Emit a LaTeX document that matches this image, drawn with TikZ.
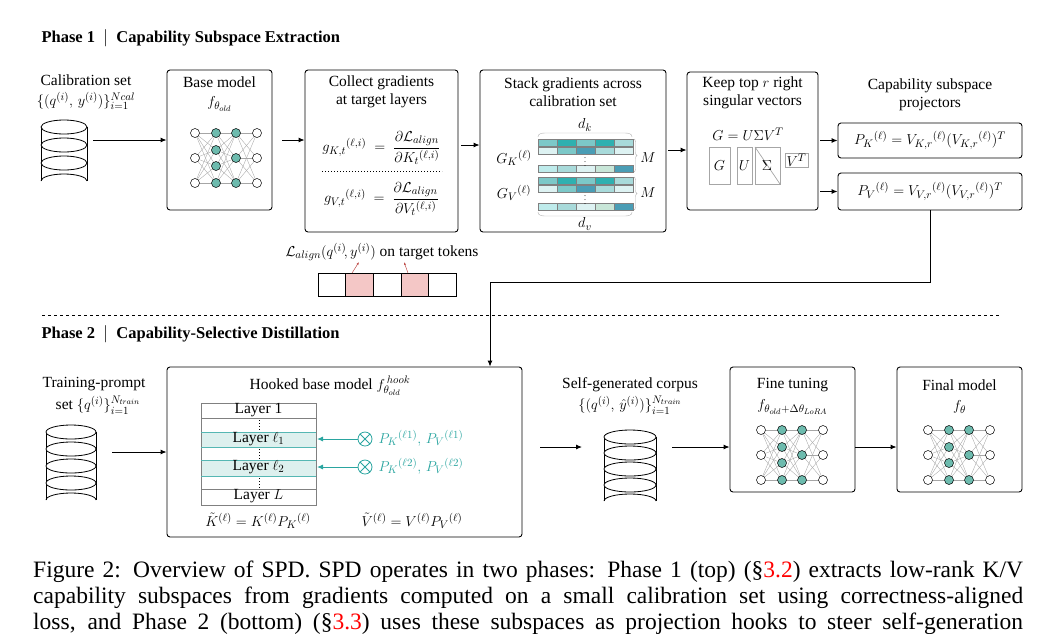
\documentclass[tikz,border=0pt]{standalone}
\usepackage{amsmath}
\usepackage{fontspec}
\setmainfont{Liberation Serif}
\usetikzlibrary{arrows.meta,decorations.pathreplacing}
\definecolor{tealn}{HTML}{6DBBAE}
\definecolor{hookc}{HTML}{2AA5A0}
\definecolor{layfill}{HTML}{DDF0EE}
\definecolor{pinkc}{HTML}{F4C7C6}
\definecolor{redc}{HTML}{C0504D}
\definecolor{cA}{HTML}{7CC8C8}
\definecolor{cB}{HTML}{2FB0B0}
\definecolor{cC}{HTML}{4A9DB5}
\definecolor{cD}{HTML}{A8DADA}
\definecolor{cE}{HTML}{DDF2F2}
\definecolor{cF}{HTML}{C8E6D8}
\definecolor{cG}{HTML}{BEEBEB}
\newcommand{\nnet}[2]{%
 \begin{scope}[shift={(#1,#2)}]
  \foreach \a in {-25,0,25}{\foreach \b in {-25,-8,8,25}{
    \draw[edge] (-31,\a)--(-10,\b);
    \draw[edge] (10,\a)--(-10,\b);}
    \foreach \c in {-25,0,25}{\draw[edge] (10,\a)--(31,\c);}}
  \foreach \a in {-25,0,25}{\node[nw] at (-31,\a){}; \node[nt] at (10,\a){}; \node[nw] at (31,\a){};}
  \foreach \b in {-25,-8,8,25}{\node[nt] at (-10,\b){};}
 \end{scope}}
\newcommand{\cyl}[5]{% cx, ytop, halfwidth, spacing, n
 \begin{scope}[thick]
  \pgfmathsetmacro{\yb}{#2+#4*(#5-1)}
  \draw (#1-#3,#2)--(#1-#3,\yb+#4) (#1+#3,#2)--(#1+#3,\yb+#4);
  \foreach \i in {1,...,#5}{\draw[fill=white] (#1,{#2+#4*(\i-1)}) ellipse[x radius=#3,y radius=7];}
  \draw (#1-#3,\yb+#4) arc[start angle=180,end angle=360,x radius=#3,y radius=7];
 \end{scope}}
\begin{document}
\begin{tikzpicture}[x=1pt,y=-1pt,font=\fontsize{15.5}{18}\selectfont,
 box/.style={draw,rounded corners=3pt,line width=0.9pt},
 arr/.style={-{Latex[length=6pt,width=5pt]},line width=0.9pt},
 edge/.style={gray!70,line width=0.35pt},
 nw/.style={circle,draw,fill=white,inner sep=0,minimum size=9pt,line width=0.5pt},
 nt/.style={circle,draw,fill=tealn,inner sep=0,minimum size=9pt,line width=0.5pt},
 lay/.style={draw=gray,line width=0.6pt},
 hk/.style={-{Latex[length=6pt,width=5pt]},hookc,line width=0.9pt},
 gb/.style={draw=gray!70,line width=0.7pt}]
\useasboundingbox (0,0) rectangle (1051,633);
% Phase 1
\node[anchor=west,font=\fontsize{16.5}{18}\selectfont\bfseries] (p1) at (38,38) {Phase 1\ \ $|$\ \ Capability Subspace Extraction};
\node (cal) at (86,80) {Calibration set};
\node (calf) at (86,101) {$\{(q^{(i)},\,y^{(i)})\}_{i=1}^{Ncal}$};
\cyl{64}{127}{23}{18}{3}
\coordinate (c1) at (93,140);
% base model
\node[box,minimum width=105pt,minimum height=140pt] (bm) at (219.5,140) {};
\node (bmt) at (219.5,82) {Base model};
\node (bmf) at (219.5,104) {$f_{\theta_{old}}$};
\nnet{226}{158}
\draw[arr] (c1)--(bm.west);
% collect
\node[box,minimum width=153pt,minimum height=162pt] (cg) at (381.5,151) {};
\node[align=center] (cgt) at (381.5,92) {Collect gradients\\at target layers};
\node (gk) at (381.5,148) {$g_{K,t}{}^{(\ell,i)}\ =\ \dfrac{\partial\mathcal{L}_{align}}{\partial K_t{}^{(\ell,i)}}$};
\draw[dotted,line width=1pt] (322,171)--(442,171);
\node (gv) at (381.5,199) {$g_{V,t}{}^{(\ell,i)}\ =\ \dfrac{\partial\mathcal{L}_{align}}{\partial V_t{}^{(\ell,i)}}$};
\coordinate (a1) at (282,140);
\draw[arr] (a1) -- (cg.west|-a1);
% stack
\node[box,minimum width=186pt,minimum height=162pt] (sg) at (573,151) {};
\node[align=center] (sgt) at (573,92) {Stack gradients across\\calibration set};
\coordinate (a2) at (461,145);
\draw[arr] (a2)--(sg.west|-a2);
\foreach \y/\cs in {139/{cA,cB,cA,cB,cD},147/{cE,cA,cC,cD,cE},165/{cG,cD,cE,cF,cC},177/{cA,cB,cA,cB,cD},185/{cE,cA,cC,cD,cE},203/{cG,cD,cE,cF,cC}}{
  \foreach \c [count=\k] in \cs {\draw[gray,line width=0.4pt,fill=\c] ({538+19*(\k-1)},\y) rectangle ++(19,7);}}
\node[font=\fontsize{8}{8}\selectfont] at (585,159) {$\vdots$};
\node[font=\fontsize{8}{8}\selectfont] at (585,197) {$\vdots$};
\draw[gray!60] (538,137) to[out=100,in=180] (545,133) -- (625,133) to[out=0,in=80] (632,137);
\draw[gray!60] (538,212) to[out=-100,in=180] (545,216) -- (625,216) to[out=0,in=-80] (632,212);
\draw[gray!60,decorate,decoration={brace,amplitude=3pt}] (634,139)--(634,172);
\draw[gray!60,decorate,decoration={brace,amplitude=3pt}] (634,177)--(634,210);
\node (dk) at (585,125) {$d_k$};
\node (dv) at (585,224) {$d_v$};
\node (mk) at (648,158) {$M$};
\node (mv) at (648,193) {$M$};
\node (gkl) at (514,158) {$G_K{}^{(\ell)}$};
\node (gvl) at (514,193) {$G_V{}^{(\ell)}$};
% keep
\node[box,minimum width=131pt,minimum height=138pt] (kp) at (752.5,141) {};
\node[align=center] (kpt) at (752.5,93) {Keep top $r$ right\\singular vectors};
\coordinate (a3) at (668,150);
\draw[arr] (a3)--(kp.west|-a3);
\node (svd) at (748,134) {$G = U\Sigma V^T$};
\draw[gb] (709,147) rectangle (730,184); \node at (719.5,166) {$G$};
\draw[gb] (737,147) rectangle (752,184); \node at (744.5,166) {$U$};
\draw[gb] (755,147) rectangle (780,184); \draw[gb] (755,147)--(780,184); \node at (767,166) {$\Sigma$};
\draw[gb] (785,153) rectangle (808,167); \node at (796.5,160) {$V^T$};
% projectors
\node[align=center] (cap) at (930,95) {Capability subspace\\projectors};
\node[box,minimum width=184pt,minimum height=35pt] (pk) at (930,140.5) {$P_K{}^{(\ell)} = V_{K,r}{}^{(\ell)}(V_{K,r}{}^{(\ell)})^T$};
\node[box,minimum width=184pt,minimum height=37pt] (pv) at (930,191.5) {$P_V{}^{(\ell)} = V_{V,r}{}^{(\ell)}(V_{V,r}{}^{(\ell)})^T$};
\coordinate (a4) at (820,140.5); \coordinate (a5) at (820,191.5);
\draw[arr] (a4)--(pk.west);
\draw[arr] (a5)--(pv.west);
% tokens
\node (al) at (382,252) {$\mathcal{L}_{align}(q^{(i)}\!,y^{(i)})$ on target tokens};
\foreach \k in {0,...,4}{
  \pgfmathsetmacro{\fc}{ifthenelse(\k==1||\k==3,"pinkc","white")}
  \draw[line width=0.6pt,fill=\fc] ({318+27.6*\k},273) rectangle ++(27.6,23);}
\draw[-{Latex[length=3pt]},redc,line width=0.5pt] (352,273)--(359,262);
\draw[-{Latex[length=3pt]},redc,line width=0.5pt] (408,273)--(404,262);
\draw[dashed,line width=0.6pt] (42,315)--(1000,315);
% Phase 2
\node[anchor=west,font=\fontsize{16.5}{18}\selectfont\bfseries] (p2) at (38,334) {Phase 2\ \ $|$\ \ Capability-Selective Distillation};
\node (tp) at (94,384) {Training-prompt};
\node (tpf) at (98,405) {set $\{q^{(i)}\}_{i=1}^{N_{train}}$};
\cyl{71}{432}{25}{17}{4}
% hooked
\node[box,minimum width=355pt,minimum height=170pt] (hb) at (344.5,452) {};
\coordinate (bend) at (490,282);
\draw[arr] (pv.south) |- (bend) -- (bend|-hb.north);
\coordinate (a6) at (112,452);
\draw[arr] (a6)--(hb.west|-a6);
\node (hbt) at (330,386) {Hooked base model $f_{\theta_{old}}^{\,hook}$};
\fill[layfill] (201,432) rectangle (316,447); \fill[layfill] (201,460) rectangle (316,476);
\draw[lay] (201,403) rectangle (316,505);
\foreach \y in {418,489}{\draw[lay] (201,\y)--(316,\y);}
\foreach \y in {432,447,460,476}{\draw[hookc!80,line width=0.7pt] (201,\y)--(316,\y);}
\node at (258.5,410) {Layer 1};
\node at (258.5,439) {Layer $\ell_1$};
\node at (258.5,467) {Layer $\ell_2$};
\node at (258.5,496) {Layer $L$};
\foreach \y in {418,447,476}{\draw[dotted,line width=1pt] (259,\y+2)--(259,\y+12);}
\node[circle,draw=hookc,line width=0.8pt,inner sep=0,minimum size=14pt] (o1) at (365,439) {};
\node[circle,draw=hookc,line width=0.8pt,inner sep=0,minimum size=14pt] (o2) at (365,467) {};
\foreach \o in {o1,o2}{\draw[hookc,line width=0.8pt] (\o.45)--(\o.225) (\o.135)--(\o.315);}
\draw[hk] (o1.west)--(317,439);
\draw[hk] (o2.west)--(317,467);
\node[anchor=west,text=hookc] (l1) at (375,438) {$P_K{}^{(\ell1)},\,P_V{}^{(\ell1)}$};
\node[anchor=west,text=hookc] (l2) at (375,466) {$P_K{}^{(\ell2)},\,P_V{}^{(\ell2)}$};
\node (kt) at (258,521) {$\tilde{K}^{(\ell)} = K^{(\ell)}P_K{}^{(\ell)}$};
\node (vt) at (412,521) {$\tilde{V}^{(\ell)} = V^{(\ell)}P_V{}^{(\ell)}$};
% self generated
\node (sgc) at (630,385) {Self-generated corpus};
\node (sgf) at (630,405) {$\{(q^{(i)},\,\hat{y}^{(i)})\}_{i=1}^{N_{train}}$};
\cyl{630}{437}{26}{16}{4}
\coordinate (a7) at (540,447); \coordinate (a7e) at (582,447);
\draw[arr] (a7)--(a7e);
% fine tuning
\node[box,minimum width=125pt,minimum height=125pt] (ft) at (792.5,429.5) {};
\node (ftt) at (792.5,385) {Fine tuning};
\node (ftf) at (792.5,407) {$f_{\theta_{old}+\Delta\theta_{LoRA}}$};
\nnet{792}{455}
\coordinate (a8) at (672,447);
\draw[arr] (a8)--(ft.west|-a8);
% final
\node[box,minimum width=125pt,minimum height=125pt] (fm) at (959.5,429.5) {};
\node (fmt) at (959.5,385) {Final model};
\node (fmf) at (959.5,407) {$f_{\theta}$};
\nnet{959}{455}
\draw[arr] (ft.east|-a8)--(fm.west|-a8);
% caption
\begin{scope}[font=\fontsize{23.5}{25}\selectfont]
\node[anchor=base west,inner sep=0] (cap1) at (33,577) {\makebox[990pt][s]{Figure 2: Overview of SPD. SPD operates in two phases: Phase 1 (top) (§\textcolor{red}{3.2}) extracts low-rank K/V}};
\node[anchor=base west,inner sep=0] (cap2) at (33,603) {\makebox[990pt][s]{capability subspaces from gradients computed on a small calibration set using correctness-aligned}};
\node[anchor=base west,inner sep=0] (cap3) at (33,629) {\makebox[990pt][s]{loss, and Phase 2 (bottom) (§\textcolor{red}{3.3}) uses these subspaces as projection hooks to steer self-generation}};
\end{scope}
\end{tikzpicture}
\end{document}
